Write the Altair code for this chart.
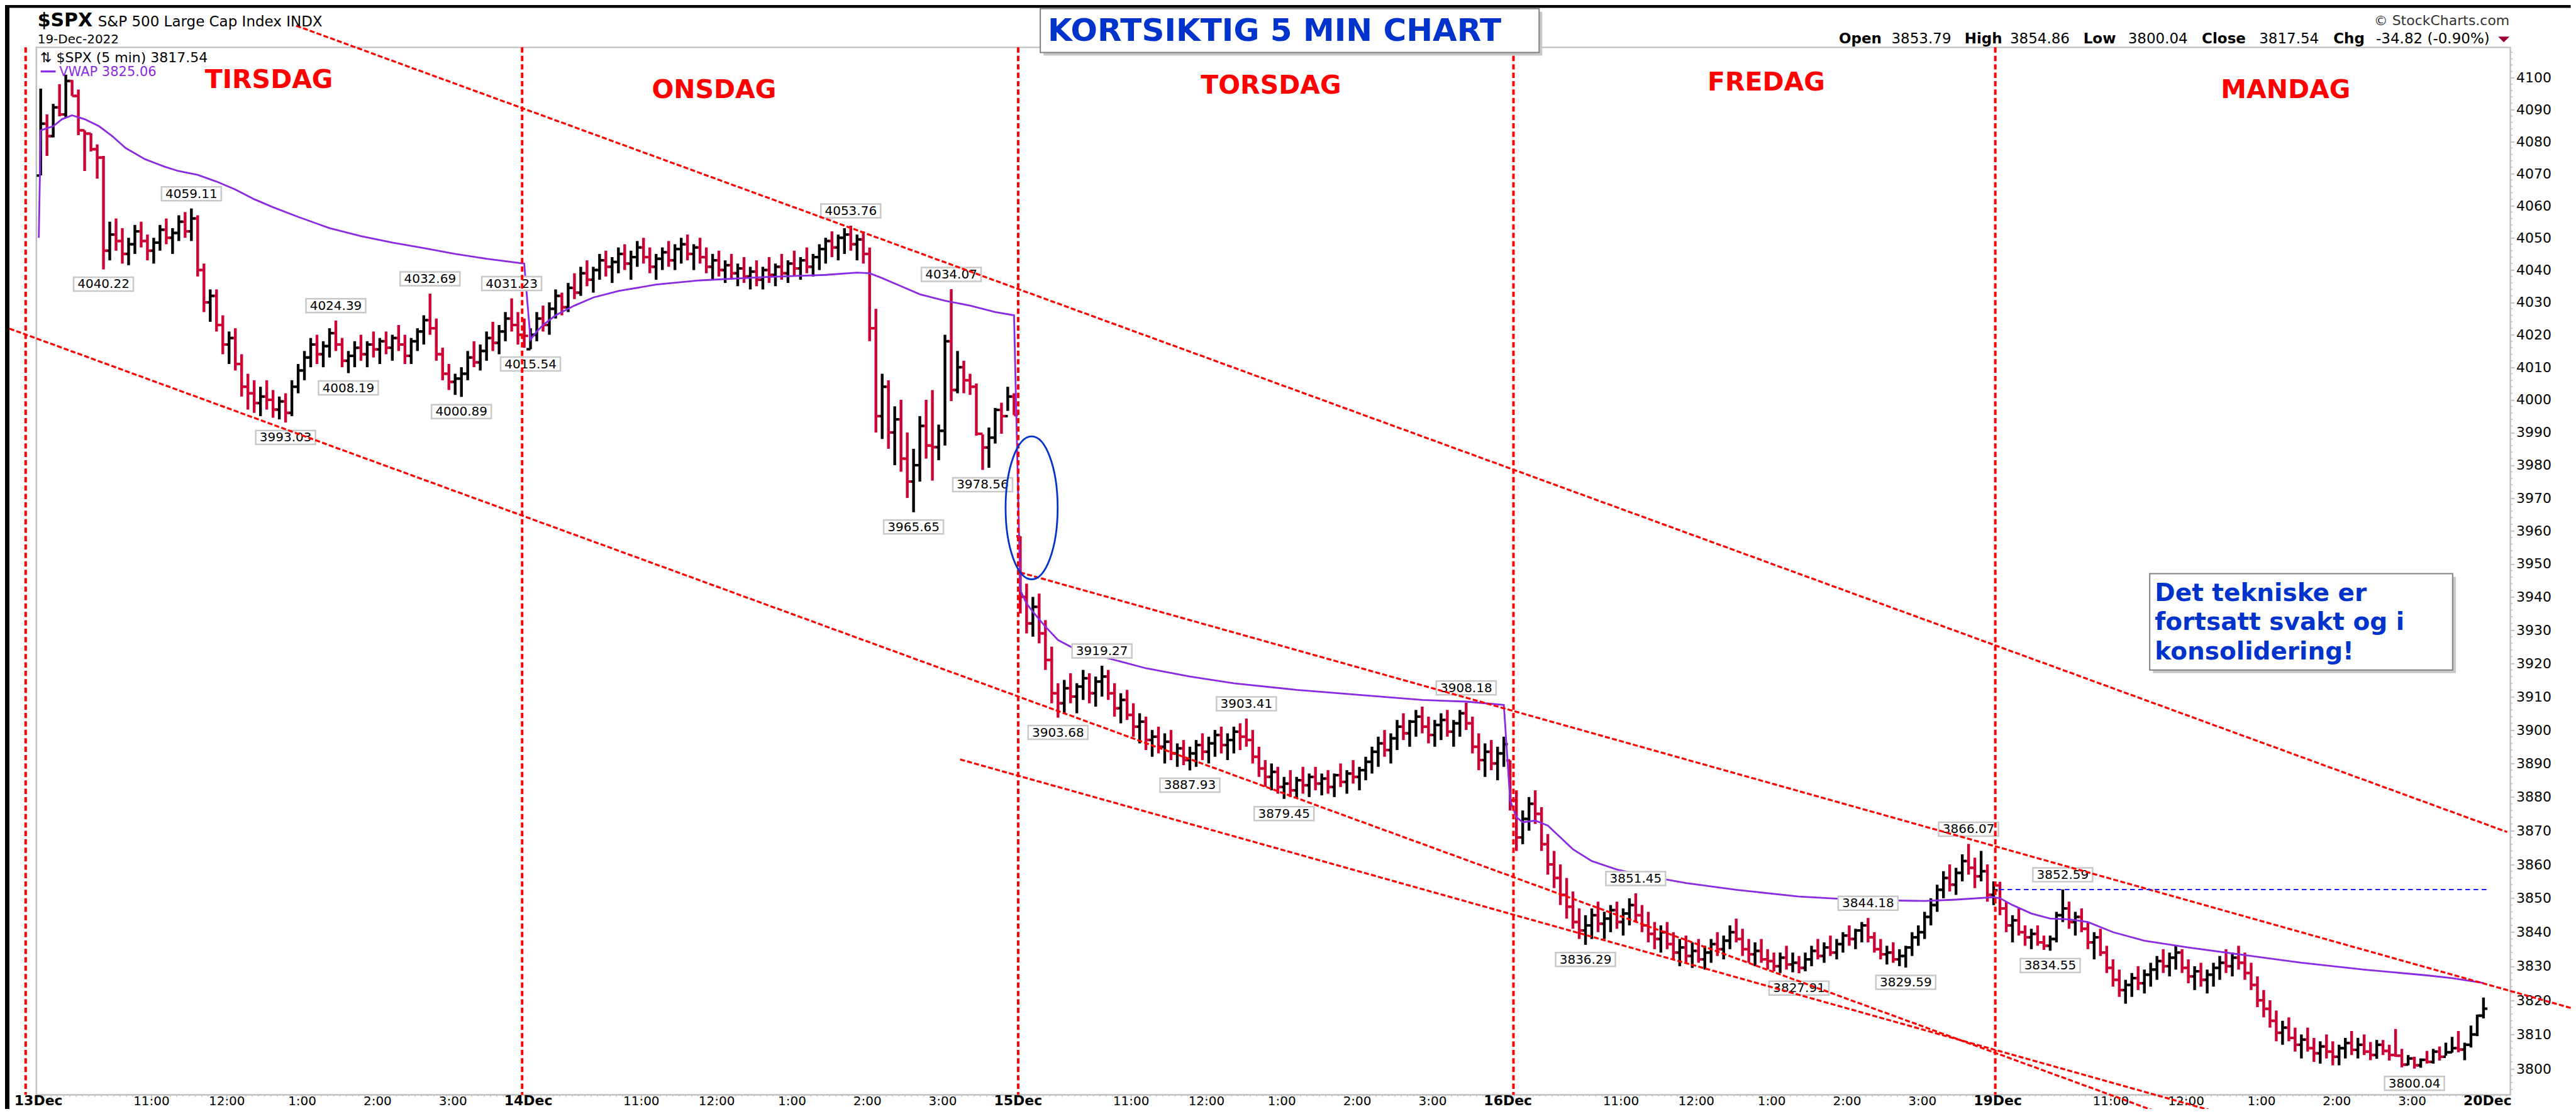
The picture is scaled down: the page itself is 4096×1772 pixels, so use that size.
import math
import altair as alt
import pandas as pd

# ======================= DATA =======================
day_open = [4069.38, 4015.54, 3958.37, 3890.91, 3853.79]

d1_high = [4096.6, 4088.5, 4091.8, 4098.0, 4100.96, 4099.3, 4096.3, 4083.5, 4082.6, 4079.1,
           4075.5, 4055.0, 4056.0, 4053.0, 4050.0, 4054.0, 4055.0, 4051.0, 4050.0, 4054.0,
           4056.0, 4053.0, 4057.0, 4058.0, 4059.11, 4057.0, 4042.0, 4034.0, 4034.0, 4026.0,
           4021.0, 4022.0, 4014.0, 4008.0, 4006.0, 4004.0, 4006.0, 4003.0, 4001.0, 4002.0,
           4006.0, 4011.0, 4015.0, 4019.0, 4020.0, 4018.0, 4022.0, 4024.39, 4019.0, 4015.0,
           4018.0, 4020.0, 4018.0, 4021.0, 4019.0, 4021.0, 4020.0, 4023.0, 4020.0, 4019.0,
           4022.0, 4026.0, 4032.69, 4025.0, 4016.0, 4011.0, 4008.0, 4010.0, 4015.0, 4018.0,
           4017.0, 4021.0, 4024.0, 4023.0, 4027.0, 4031.23, 4027.0, 4025.0]
d1_low = [4069.4, 4075.5, 4081.3, 4087.9, 4087.5, 4094.3, 4082.0, 4070.8, 4076.9, 4068.4,
          4040.22, 4043.0, 4046.0, 4042.0, 4041.5, 4045.0, 4047.0, 4043.0, 4042.0, 4046.0,
          4048.0, 4045.0, 4049.0, 4050.0, 4049.0, 4038.0, 4027.0, 4024.0, 4021.0, 4014.0,
          4011.0, 4009.0, 4001.0, 3997.0, 3996.0, 3995.0, 3997.0, 3994.5, 3994.0, 3993.03,
          3995.0, 4002.0, 4006.0, 4010.0, 4011.0, 4010.0, 4013.0, 4015.0, 4010.0, 4008.19,
          4010.0, 4012.0, 4010.0, 4013.0, 4011.0, 4014.0, 4012.0, 4015.0, 4011.0, 4011.0,
          4015.0, 4017.0, 4020.0, 4012.0, 4006.0, 4003.0, 4001.5, 4000.89, 4006.0, 4010.0,
          4009.0, 4012.0, 4015.0, 4014.0, 4018.0, 4021.0, 4017.0, 4016.0]
d1_close = [4085.6, 4081.7, 4090.7, 4088.5, 4099.0, 4094.3, 4083.5, 4082.5, 4077.6, 4075.0,
            4046.0, 4051.0, 4049.0, 4045.0, 4048.0, 4052.0, 4049.0, 4046.0, 4048.5, 4052.5,
            4050.0, 4051.5, 4055.0, 4052.0, 4056.0, 4040.0, 4030.0, 4032.0, 4023.0, 4017.0,
            4019.0, 4011.0, 4004.0, 4002.0, 3999.0, 4001.0, 4000.0, 3997.0, 3999.5, 3996.0,
            4004.0, 4009.0, 4013.0, 4017.0, 4014.0, 4016.5, 4020.5, 4017.0, 4012.0, 4013.5,
            4016.0, 4014.0, 4017.0, 4015.5, 4018.0, 4016.0, 4019.0, 4017.0, 4013.5, 4018.0,
            4021.0, 4024.5, 4022.0, 4014.0, 4008.0, 4005.5, 4006.5, 4008.0, 4013.0, 4011.5,
            4015.0, 4019.0, 4017.5, 4021.0, 4025.0, 4023.0, 4020.0, 4019.65]

d2_high = [4022.0, 4027.0, 4029.0, 4030.0, 4034.0, 4033.0, 4036.0, 4039.0, 4041.0, 4043.0,
           4041.0, 4045.0, 4046.0, 4044.0, 4047.0, 4048.0, 4046.0, 4049.0, 4050.0, 4047.0,
           4045.0, 4047.0, 4049.0, 4048.0, 4050.0, 4051.0, 4048.0, 4050.0, 4047.0, 4045.0,
           4046.0, 4043.0, 4045.0, 4042.0, 4044.0, 4041.0, 4043.0, 4041.0, 4044.0, 4042.0,
           4045.0, 4043.0, 4046.0, 4044.0, 4047.0, 4045.0, 4048.0, 4050.0, 4052.0, 4051.0,
           4053.0, 4053.76, 4051.0, 4052.0, 4047.0, 4028.0, 4008.0, 4006.0, 3998.0, 4000.0,
           3990.0, 3985.0, 3995.0, 4000.0, 4003.0, 3992.4, 4020.0, 4034.07, 4015.0, 4012.0,
           4008.0, 4005.0, 3989.4, 3991.5, 3997.5, 3999.1, 4004.0, 4002.0]
d2_low = [4015.54, 4018.0, 4021.0, 4020.0, 4025.0, 4026.0, 4027.0, 4031.0, 4032.0, 4035.0,
          4033.0, 4037.0, 4038.0, 4036.0, 4039.0, 4040.0, 4037.0, 4041.0, 4042.0, 4039.0,
          4037.0, 4040.0, 4041.0, 4040.0, 4042.0, 4043.0, 4040.0, 4042.0, 4039.0, 4037.0,
          4038.0, 4036.0, 4037.0, 4035.0, 4036.0, 4034.0, 4035.0, 4034.0, 4036.0, 4035.0,
          4037.0, 4036.0, 4038.0, 4037.0, 4039.0, 4038.0, 4040.0, 4042.0, 4044.0, 4043.0,
          4045.0, 4046.0, 4043.0, 4042.0, 4018.0, 3990.0, 3988.0, 3985.0, 3980.0, 3978.0,
          3970.0, 3965.65, 3975.0, 3982.0, 3975.3, 3981.5, 3986.0, 3999.6, 4002.0, 4002.0,
          4001.5, 3989.0, 3978.56, 3979.2, 3986.6, 3989.6, 3996.6, 3995.3]
d2_close = [4020.0, 4025.0, 4023.0, 4028.0, 4032.0, 4028.5, 4034.5, 4033.0, 4039.0, 4037.0,
            4040.0, 4043.0, 4041.0, 4042.5, 4045.0, 4042.0, 4044.0, 4047.0, 4044.0, 4041.0,
            4043.5, 4045.5, 4043.0, 4046.5, 4048.0, 4045.0, 4047.0, 4044.0, 4041.0, 4043.0,
            4040.0, 4041.5, 4039.0, 4040.5, 4038.0, 4039.5, 4037.0, 4040.0, 4038.5, 4041.0,
            4039.0, 4042.0, 4040.5, 4043.0, 4041.0, 4044.0, 4046.5, 4049.0, 4047.0, 4050.0,
            4051.0, 4048.0, 4049.5, 4045.0, 4022.0, 3995.0, 4004.0, 3990.0, 3994.0, 3982.0,
            3975.0, 3980.0, 3992.0, 3986.0, 3985.5, 3990.5, 4018.0, 4003.0, 4010.0, 4006.0,
            4004.0, 3989.6, 3985.4, 3988.4, 3996.9, 3995.0, 4001.0, 3995.32]

d3_high = [3958.37, 3944.0, 3940.0, 3941.0, 3933.0, 3925.0, 3914.0, 3915.0, 3917.0, 3914.0,
           3918.0, 3917.0, 3916.0, 3919.27, 3918.0, 3914.0, 3911.0, 3912.0, 3908.0, 3905.0,
           3904.0, 3900.0, 3901.0, 3899.0, 3900.0, 3896.0, 3897.0, 3895.0, 3897.0, 3899.0,
           3898.0, 3900.0, 3901.0, 3899.0, 3901.0, 3902.0, 3903.41, 3900.0, 3895.0, 3891.0,
           3890.0, 3889.0, 3886.0, 3888.0, 3886.0, 3889.0, 3887.0, 3889.0, 3887.0, 3888.0,
           3887.0, 3890.0, 3888.0, 3891.0, 3889.0, 3892.0, 3895.0, 3898.0, 3900.0, 3899.0,
           3903.0, 3905.0, 3903.0, 3906.0, 3907.0, 3904.0, 3903.0, 3905.0, 3906.0, 3903.0,
           3906.0, 3908.18, 3904.0, 3899.0, 3896.0, 3897.0, 3895.0, 3898.0]
d3_low = [3935.0, 3929.0, 3928.0, 3926.0, 3918.0, 3908.0, 3903.68, 3905.0, 3908.0, 3905.0,
          3909.0, 3908.0, 3907.0, 3910.0, 3909.0, 3904.0, 3902.0, 3903.0, 3898.0, 3896.0,
          3894.0, 3892.0, 3893.0, 3890.0, 3891.0, 3889.0, 3889.5, 3887.93, 3889.0, 3891.0,
          3890.0, 3892.0, 3893.0, 3891.0, 3893.0, 3894.0, 3895.0, 3890.0, 3886.0, 3883.0,
          3882.0, 3881.0, 3879.45, 3880.0, 3879.8, 3881.0, 3880.0, 3882.0, 3880.5, 3881.0,
          3880.0, 3883.0, 3881.0, 3884.0, 3882.0, 3885.0, 3887.0, 3889.0, 3892.0, 3890.0,
          3894.0, 3897.0, 3895.0, 3898.0, 3899.0, 3896.0, 3895.0, 3897.0, 3898.0, 3895.0,
          3898.0, 3900.0, 3893.0, 3888.0, 3886.0, 3888.0, 3885.0, 3889.0]
d3_close = [3940.0, 3932.0, 3937.0, 3929.0, 3921.0, 3911.0, 3908.0, 3912.5, 3910.0, 3913.0,
            3915.5, 3911.0, 3914.5, 3916.0, 3911.0, 3906.5, 3909.0, 3904.5, 3901.0, 3902.5,
            3897.0, 3898.0, 3895.0, 3896.5, 3893.0, 3894.5, 3891.0, 3893.0, 3895.5, 3893.5,
            3896.0, 3898.5, 3895.5, 3897.0, 3899.5, 3898.0, 3897.0, 3892.0, 3888.5, 3886.0,
            3887.5, 3883.0, 3884.0, 3882.0, 3885.0, 3883.5, 3886.0, 3884.0, 3885.5, 3883.0,
            3886.5, 3884.5, 3887.0, 3886.0, 3888.0, 3890.5, 3893.5, 3896.0, 3894.0, 3897.5,
            3901.0, 3899.0, 3902.5, 3904.0, 3901.0, 3898.5, 3901.5, 3903.0, 3899.5, 3902.0,
            3905.0, 3902.0, 3895.0, 3891.0, 3893.5, 3890.0, 3893.0, 3895.75]

d4_high = [3890.91, 3882.0, 3876.0, 3880.0, 3882.0, 3877.0, 3869.0, 3864.0, 3860.0, 3856.0,
           3852.0, 3847.0, 3845.0, 3847.0, 3849.0, 3846.0, 3848.0, 3849.0, 3847.0, 3850.0,
           3851.45, 3848.0, 3846.0, 3843.0, 3842.0, 3843.0, 3840.0, 3838.0, 3839.0, 3837.0,
           3838.0, 3836.0, 3838.0, 3840.0, 3839.0, 3842.0, 3844.0, 3841.0, 3838.0, 3837.0,
           3838.0, 3835.0, 3834.0, 3834.0, 3836.0, 3834.0, 3833.0, 3834.0, 3836.0, 3838.0,
           3837.0, 3839.0, 3838.0, 3840.0, 3842.0, 3841.0, 3843.0, 3844.18, 3840.0, 3838.0,
           3836.0, 3837.0, 3835.0, 3836.0, 3840.0, 3842.0, 3846.0, 3850.0, 3854.0, 3858.0,
           3860.0, 3859.0, 3863.0, 3866.07, 3862.0, 3864.0, 3860.0, 3855.0]
d4_low = [3876.0, 3864.0, 3866.0, 3870.0, 3872.0, 3864.0, 3857.0, 3853.0, 3848.0, 3844.0,
          3841.0, 3838.0, 3836.29, 3838.0, 3840.0, 3838.0, 3840.0, 3841.0, 3839.0, 3842.0,
          3843.0, 3840.0, 3837.0, 3835.0, 3834.0, 3835.0, 3832.0, 3830.0, 3831.0, 3829.5,
          3831.0, 3829.0, 3831.0, 3833.0, 3832.0, 3835.0, 3837.0, 3833.0, 3831.0, 3830.0,
          3831.0, 3829.0, 3828.5, 3828.0, 3829.0, 3828.2, 3827.91, 3828.5, 3830.0, 3832.0,
          3831.0, 3833.0, 3832.0, 3834.0, 3836.0, 3835.0, 3837.0, 3837.0, 3834.0, 3832.0,
          3830.5, 3831.0, 3830.0, 3829.59, 3833.0, 3836.0, 3838.0, 3842.0, 3846.0, 3850.0,
          3852.0, 3851.0, 3855.0, 3857.0, 3853.0, 3855.0, 3849.0, 3848.0]
d4_close = [3879.0, 3868.0, 3873.5, 3878.0, 3875.0, 3866.0, 3860.0, 3856.0, 3851.0, 3847.5,
            3843.0, 3840.5, 3842.0, 3845.0, 3842.5, 3844.0, 3846.5, 3843.0, 3845.5, 3848.0,
            3845.0, 3842.0, 3839.5, 3838.0, 3840.0, 3836.5, 3834.0, 3835.5, 3833.0, 3834.5,
            3832.0, 3834.0, 3836.5, 3835.0, 3837.5, 3840.0, 3838.0, 3835.0, 3833.5, 3834.5,
            3832.0, 3831.5, 3830.0, 3832.5, 3830.5, 3831.0, 3829.5, 3832.0, 3834.5, 3833.0,
            3835.5, 3834.0, 3836.5, 3839.0, 3838.0, 3840.5, 3842.0, 3838.5, 3835.0, 3833.5,
            3834.0, 3832.0, 3833.0, 3835.5, 3838.5, 3840.0, 3844.5, 3848.0, 3852.5, 3856.0,
            3854.0, 3857.5, 3861.0, 3859.0, 3856.5, 3858.0, 3851.0, 3852.36]

d5_high = [3854.86, 3849.0, 3845.0, 3847.0, 3842.0, 3841.0, 3842.0, 3839.0, 3839.0, 3846.0,
           3852.59, 3849.0, 3846.0, 3847.0, 3843.0, 3840.0, 3841.0, 3836.0, 3832.0, 3829.0,
           3826.0, 3828.0, 3830.0, 3829.0, 3831.0, 3833.0, 3835.0, 3834.0, 3836.0, 3835.0,
           3832.0, 3830.0, 3831.0, 3829.0, 3831.0, 3833.0, 3835.0, 3834.0, 3836.0, 3834.0,
           3831.0, 3827.0, 3823.0, 3820.0, 3817.0, 3814.0, 3815.0, 3812.0, 3810.0, 3812.0,
           3809.0, 3808.0, 3810.0, 3808.0, 3807.0, 3809.0, 3811.0, 3809.0, 3810.0, 3807.8,
           3808.4, 3808.4, 3807.0, 3811.6, 3805.8, 3804.0, 3803.5, 3803.0, 3805.2, 3805.8,
           3806.5, 3807.6, 3809.3, 3811.0, 3807.6, 3812.6, 3815.8, 3820.8]
d5_low = [3845.0, 3840.0, 3837.0, 3839.0, 3836.0, 3835.0, 3836.0, 3834.8, 3834.55, 3837.0,
          3843.0, 3841.0, 3839.0, 3840.0, 3835.0, 3832.0, 3833.0, 3828.0, 3824.0, 3821.0,
          3819.0, 3821.0, 3823.0, 3822.0, 3824.0, 3826.0, 3828.0, 3827.0, 3829.0, 3828.0,
          3825.0, 3823.0, 3824.0, 3822.0, 3824.0, 3826.0, 3828.0, 3827.0, 3829.0, 3826.0,
          3823.0, 3818.0, 3815.0, 3812.0, 3808.0, 3807.0, 3808.0, 3805.0, 3803.0, 3805.0,
          3802.0, 3801.5, 3803.0, 3801.0, 3801.0, 3803.0, 3804.0, 3803.0, 3804.0, 3802.5,
          3802.9, 3804.0, 3802.4, 3803.5, 3800.4, 3801.0, 3800.04, 3800.3, 3801.5, 3801.5,
          3802.4, 3803.8, 3804.7, 3804.8, 3802.5, 3806.2, 3809.5, 3814.7]
d5_close = [3847.0, 3842.0, 3843.5, 3840.0, 3838.5, 3839.5, 3837.0, 3836.0, 3838.0, 3845.0,
            3847.0, 3843.0, 3844.5, 3841.0, 3837.0, 3838.5, 3834.0, 3829.5, 3826.0, 3823.0,
            3824.5, 3826.5, 3825.0, 3827.5, 3829.0, 3831.5, 3830.0, 3832.5, 3834.0, 3829.5,
            3827.0, 3828.5, 3826.0, 3827.5, 3829.5, 3831.0, 3830.0, 3832.5, 3831.0, 3828.0,
            3824.5, 3820.0, 3817.5, 3814.0, 3810.5, 3812.0, 3809.0, 3807.0, 3808.5, 3806.0,
            3804.5, 3806.5, 3805.0, 3803.5, 3806.0, 3807.5, 3805.5, 3807.0, 3805.0, 3804.0,
            3807.0, 3805.2, 3804.0, 3803.8, 3801.2, 3803.0, 3801.0, 3802.6, 3802.0, 3805.0,
            3803.5, 3804.8, 3806.0, 3805.6, 3807.0, 3810.0, 3815.5, 3817.54]

# VWAP (resets each day), bar index -> value
vwap_u = [-0.3, 0, 2, 3.4, 5, 7, 9.3, 11.4, 13.5, 16.6, 19.8, 21.9, 25, 28, 31, 34, 37, 41, 46, 51, 56, 61, 66, 71, 77,
          78, 79, 80, 82, 85, 88, 92, 98, 105, 115, 125, 130, 132, 134, 137, 140, 144, 148, 152, 155,
          156, 157, 158, 160, 162, 165, 170, 176, 183, 190, 200, 210, 220, 227, 233,
          234, 235, 236, 238, 240, 242, 244, 247, 251, 256, 262, 270, 280, 290, 300, 305, 311,
          312, 314, 317, 320, 323, 326, 330, 335, 342, 350, 360, 370, 380, 384, 389]
vwap_v = [4050.0, 4083.5, 4084.8, 4087.0, 4088.2, 4087.0, 4084.8, 4081.7, 4078.0, 4074.5, 4072.1, 4070.8, 4069.6,
          4067.5, 4065.0, 4062.0, 4059.5, 4056.5, 4053.0, 4050.5, 4048.5, 4046.8, 4045.0, 4043.5, 4042.0,
          4018.5, 4021.0, 4023.0, 4026.0, 4029.0, 4031.5, 4033.5, 4035.5, 4036.8, 4037.8, 4038.5, 4039.2,
          4039.0, 4037.5, 4035.0, 4032.5, 4030.5, 4029.0, 4027.0, 4026.0,
          3942.0, 3938.0, 3935.5, 3931.0, 3927.0, 3924.0, 3921.5, 3918.5, 3916.0, 3914.0, 3912.0, 3910.5,
          3909.0, 3908.5, 3907.5,
          3879.0, 3874.0, 3872.5, 3873.0, 3871.5, 3868.0, 3864.5, 3861.0, 3858.5, 3856.5, 3854.5, 3852.5,
          3850.5, 3849.5, 3849.2, 3849.6, 3850.3,
          3850.0, 3848.0, 3845.5, 3844.0, 3843.8, 3843.0, 3840.0, 3837.5, 3835.5, 3833.5, 3831.0, 3829.0,
          3827.3, 3826.5, 3825.06]

# price call-outs: bar index, value, side
lab_u = [10, 24, 39, 47, 49, 62, 67, 75, 78, 129, 139, 145, 150, 162, 169, 183, 192, 198, 227,
         246, 254, 280, 291, 297, 307, 320, 322, 378]
lab_p = [4040.22, 4059.11, 3993.03, 4024.39, 4008.19, 4032.69, 4000.89, 4031.23, 4015.54, 4053.76,
         3965.65, 4034.07, 3978.56, 3903.68, 3919.27, 3887.93, 3903.41, 3879.45, 3908.18, 3836.29,
         3851.45, 3827.91, 3844.18, 3829.59, 3866.07, 3834.55, 3852.59, 3800.04]
lab_side = ["low", "high", "low", "high", "low", "high", "low", "high", "low", "high",
            "low", "high", "low", "low", "high", "low", "high", "low", "high", "low",
            "high", "low", "high", "low", "high", "low", "high", "low"]

# hand-drawn annotation lines (bar index, price)
trend_id = ["A", "A", "B", "B", "C", "C", "D", "D"]
trend_u = [40.69, 392.77, -4.97, 337.55, 155.97, 403.4, 146.42, 347.1]
trend_p = [4116.4, 3869.6, 4021.9, 3787.1, 3947.4, 3817.5, 3891.2, 3787.1]
sep_u = [-2.39, 76.67, 155.66, 234.53, 311.26]
hline_u = [311.9, 389.6]
hline_p = 3852.59
ellipse_u, ellipse_p = 157.8, 3967.0

day_tick_labels = ["13Dec", "14Dec", "15Dec", "16Dec", "19Dec", "20Dec"]
hour_labels = ["11:00", "12:00", "1:00", "2:00", "3:00"]
hour_bars = [18, 30, 42, 54, 66]
y_labels = list(range(3800, 4101, 10))

# ======================= LAYOUT =======================
S = 0.628
FL, FT, FR, FB = 92, 120, 6356, 2773          # plot frame in reference pixels
W = (FR - FL) * S
H = (FB - FT) * S
PADL, PADT = FL * S - 8, FT * S - 8
PADB = 22.5
PAD = {"left": PADL, "top": PADT, "right": 96, "bottom": PADB}


def cx(fx):
    return fx * S - FL * S


def cy(fy):
    return fy * S - FT * S


UMIN, UMAX = (FL - 103) / 15.9, (FR - 103) / 15.9
PMAX = 4100 * math.exp((197 - FT) / 33033)
PMIN = 4100 * math.exp(-(FB - 197) / 33033)

RED_BAR = "#cc0033"
PURPLE = "#8a2be2"
BLUE = "#0033cc"
GRAY = "#c0c0c0"
FONT = "DejaVu Sans"

xs = alt.Scale(domain=[UMIN, UMAX], nice=False, zero=False)
ys = alt.Scale(type="log", domain=[PMIN, PMAX], nice=False)
yax = alt.Axis(orient="right", values=y_labels, format="d", tickSize=6, tickWidth=2,
               tickColor=GRAY, domain=False, grid=False, labelFont=FONT, labelFontSize=22,
               labelColor="#000000", labelPadding=3, labelOverlap=False, title=None)


def X(f):
    return alt.X(f, type="quantitative", scale=xs, axis=None)


def Y(f):
    return alt.Y(f, type="quantitative", scale=ys, axis=yax)


# ---- bar table ----
highs = [d1_high, d2_high, d3_high, d4_high, d5_high]
lows = [d1_low, d2_low, d3_low, d4_low, d5_low]
closes = [d1_close, d2_close, d3_close, d4_close, d5_close]
rows = []
for d in range(5):
    for k in range(78):
        o = day_open[d] if k == 0 else closes[d][k - 1]
        if k > 0:
            prev = closes[d][k - 1]
        elif d > 0:
            prev = closes[d - 1][-1]
        else:
            prev = day_open[0]
        c = closes[d][k]
        rows.append(dict(u=78 * d + k, o=o, h=highs[d][k], l=lows[d][k], c=c,
                         dir="up" if c >= prev else "down"))
bars = pd.DataFrame(rows)
col = alt.Color("dir:N", scale=alt.Scale(domain=["up", "down"], range=["#000000", RED_BAR]), legend=None)

vwap = pd.DataFrame({"u": vwap_u, "v": vwap_v})
labels = pd.DataFrame({"u": lab_u, "p": lab_p, "side": lab_side,
                       "t": [f"{v:.2f}" for v in lab_p]})
trend = pd.DataFrame({"id": trend_id, "u": trend_u, "p": trend_p})
seps = pd.DataFrame({"u": sep_u})

xt_days = pd.DataFrame({"u": [78 * d - 0.35 for d in range(6)], "t": day_tick_labels})
xt_hours = pd.DataFrame({"u": [78 * d + k - 0.35 for d in range(5) for k in hour_bars],
                         "t": [h for d in range(5) for h in hour_labels]})
xt_minor = pd.DataFrame({"u": [n - 0.35 for n in range(0, 394)]})
yt_minor = pd.DataFrame({"p": [v for v in range(3794, 4110, 2) if v % 10 != 0]})

one = pd.DataFrame({"a": [0]})


def txt(text, x, y, size, color="#000000", weight="normal", align="left"):
    return alt.Chart(pd.DataFrame({"t": [text]})).mark_text(
        align=align, baseline="alphabetic", fontSize=size, fontWeight=weight,
        color=color, font=FONT).encode(x=alt.value(x), y=alt.value(y), text="t:N")


def rect(x1, y1, x2, y2, fill, stroke=None, sw=0):
    kw = dict(fill=fill, opacity=1)
    if stroke:
        kw.update(stroke=stroke, strokeWidth=sw)
    return alt.Chart(one).mark_rect(**kw).encode(
        x=alt.value(x1), x2=alt.value(x2), y=alt.value(y1), y2=alt.value(y2))


layers = []
# black screenshot border
layers.append(rect(-PADL, -PADT, -PADL + 7, H + PADB, "#000000"))
layers.append(rect(-PADL, -PADT, W + 96, -PADT + 4.6, "#000000"))

# axis ticks and labels
layers.append(alt.Chart(xt_minor).mark_rule(color=GRAY, strokeWidth=1.6).encode(
    x=X("u"), y=alt.value(H), y2=alt.value(H + 3)))
layers.append(alt.Chart(xt_hours).mark_rule(color=GRAY, strokeWidth=1.8).encode(
    x=X("u"), y=alt.value(H), y2=alt.value(H + 5.5)))
layers.append(alt.Chart(xt_days).mark_rule(color=GRAY, strokeWidth=1.8).encode(
    x=X("u"), y=alt.value(H), y2=alt.value(H + 5.5)))
layers.append(alt.Chart(yt_minor).mark_rule(color=GRAY, strokeWidth=1.8).encode(
    x=alt.value(W), x2=alt.value(W + 3.5), y=Y("p")))
layers.append(alt.Chart(xt_hours).mark_text(baseline="alphabetic", fontSize=20, font=FONT,
                                            color="#000000").encode(
    x=X("u"), y=alt.value(H + 17), text="t:N"))
layers.append(alt.Chart(xt_days).mark_text(baseline="alphabetic", fontSize=22, font=FONT,
                                           fontWeight="bold", color="#000000").encode(
    x=X("u"), y=alt.value(H + 17), text="t:N"))

# OHLC bars
layers.append(alt.Chart(bars).mark_rule(strokeWidth=4.4).encode(
    x=X("u"), y=Y("h"), y2=alt.Y2("l"), color=col))
layers.append(alt.Chart(bars).mark_tick(orient="horizontal", size=6.3, thickness=4,
                                        xOffset=-3.15, opacity=1).encode(
    x=X("u"), y=Y("o"), color=col))
layers.append(alt.Chart(bars).mark_tick(orient="horizontal", size=6.3, thickness=4,
                                        xOffset=3.15, opacity=1).encode(
    x=X("u"), y=Y("c"), color=col))

# VWAP
layers.append(alt.Chart(vwap).mark_line(color=PURPLE, strokeWidth=2.8).encode(x=X("u"), y=Y("v")))

# call-out boxes
BOX = "M -1 -0.2316 H 1 V 0.2316 H -1 Z"
for side, off, dy in (("low", 23.5, 30), ("high", -23.5, -17)):
    base = alt.Chart(labels).transform_filter(alt.datum.side == side)
    layers.append(base.mark_point(shape=BOX, size=9025, filled=True, fill="#ffffff",
                                  stroke="#c8c8c8", strokeWidth=2.5, opacity=1,
                                  yOffset=off).encode(x=X("u"), y=Y("p")))
    layers.append(base.mark_text(fontSize=20, font=FONT, color="#000000", baseline="alphabetic",
                                 dy=dy).encode(x=X("u"), y=Y("p"), text="t:N"))

# annotation lines
layers.append(alt.Chart(seps).mark_rule(color="#ff0000", strokeWidth=4, strokeDash=[8.4, 5]).encode(
    x=X("u"), y=alt.value(0), y2=alt.value(H)))
layers.append(alt.Chart(trend).mark_line(color="#ff0000", strokeWidth=3.2, strokeDash=[8, 3.5]).encode(
    x=X("u"), y=Y("p"), detail="id:N"))
layers.append(alt.Chart(pd.DataFrame({"u1": [hline_u[0]], "u2": [hline_u[1]], "p": [hline_p]}))
              .mark_rule(color="#1a1aff", strokeWidth=2, strokeDash=[7.5, 5.5]).encode(
    x=X("u1"), x2=alt.X2("u2"), y=Y("p")))
ELL = "M 0 -1 A 0.364 1 0 1 1 0 1 A 0.364 1 0 1 1 0 -1 Z"
layers.append(alt.Chart(pd.DataFrame({"u": [ellipse_u], "p": [ellipse_p]})).mark_point(
    shape=ELL, size=51711, filled=False, color=BLUE, strokeWidth=2.8, opacity=1).encode(
    x=X("u"), y=Y("p")))

# day names
for name, fx, fy in (("TIRSDAG", 681, 223), ("ONSDAG", 1808, 248), ("TORSDAG", 3218, 237),
                     ("FREDAG", 4472, 230), ("MANDAG", 5787, 248)):
    layers.append(txt(name, cx(fx), cy(fy), 41, color="#ff0000", weight="bold", align="center"))

# title box
layers.append(rect(cx(2634) + 5, cy(22) + 5, cx(3897) + 5, cy(133) + 5, "#c8c8c8"))
layers.append(rect(cx(2634), cy(22), cx(3897), cy(133), "#ffffff", "#808080", 2))
layers.append(txt("KORTSIKTIG 5 MIN CHART", cx(2653), cy(103), 50, color=BLUE, weight="bold"))

# comment box
layers.append(rect(cx(5443) + 5, cy(1453) + 5, cx(6210) + 5, cy(1697) + 5, "#c8c8c8"))
layers.append(rect(cx(5443), cy(1453), cx(6210), cy(1697), "#ffffff", "#808080", 2))
for line, fy in (("Det tekniske er", 1522), ("fortsatt svakt og i", 1596), ("konsolidering!", 1670)):
    layers.append(txt(line, cx(5456), cy(fy), 39, color=BLUE, weight="bold"))

# header left
layers.append(txt("$SPX", cx(95), cy(67), 30, weight="bold"))
layers.append(txt("S&P 500 Large Cap Index INDX", cx(248), cy(67), 23))
layers.append(txt("19-Dec-2022", cx(95), cy(110), 20))
# legend inside the plot
layers.append(txt("\u21c5 $SPX (5 min) 3817.54", cx(102), cy(157), 22))
layers.append(alt.Chart(one).mark_rule(color=PURPLE, strokeWidth=3.2).encode(
    x=alt.value(cx(103)), x2=alt.value(cx(141)), y=alt.value(cy(181))))
layers.append(txt("VWAP 3825.06", cx(150), cy(193), 21, color=PURPLE))

# header right
layers.append(txt("\u00a9 StockCharts.com", cx(6354), cy(64), 22, color="#333333", align="right"))
for t, fx, bold in (("Open", 4656, True), ("3853.79", 4789, False), ("High", 4974, True),
                    ("3854.86", 5089, False), ("Low", 5275, True), ("3800.04", 5388, False),
                    ("Close", 5575, True), ("3817.54", 5720, False), ("Chg", 5908, True),
                    ("-34.82 (-0.90%)", 6016, False)):
    layers.append(txt(t, cx(fx), cy(110), 23, weight="bold" if bold else "normal"))
layers.append(alt.Chart(one).mark_point(shape="M -1 -0.5 L 1 -0.5 L 0 0.5 Z", size=324, filled=True,
                                        color="#990033", opacity=1).encode(
    x=alt.value(cx(6339.5)), y=alt.value(cy(100))))

chart = alt.layer(*layers).properties(
    width=W, height=H, padding=PAD, autosize=alt.AutoSizeParams(type="none"),
    background="#ffffff"
).configure_view(stroke=GRAY, strokeWidth=2.4)

chart.save("out.html", embed_options={"renderer": "svg", "actions": False})
